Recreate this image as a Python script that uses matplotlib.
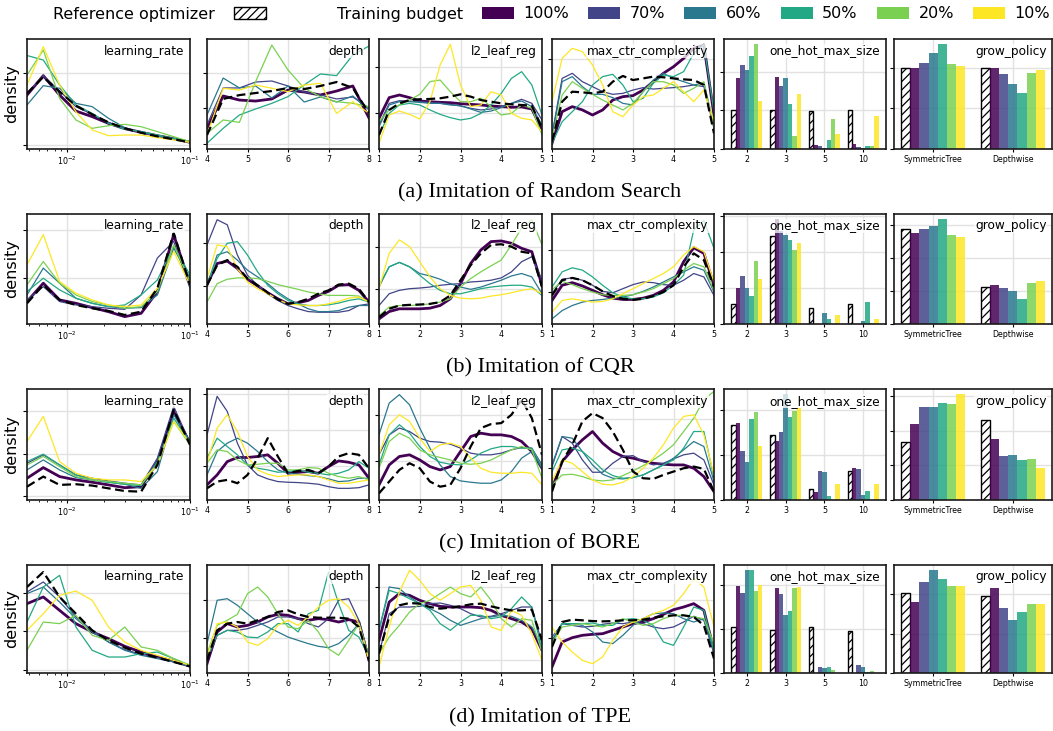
import numpy as np
import matplotlib.pyplot as plt
from matplotlib.patches import Patch
from matplotlib.ticker import MultipleLocator, NullFormatter

budgets = ['100%', '70%', '60%', '50%', '20%', '10%']
colors = [plt.cm.viridis(v) for v in (0.0, 0.2, 0.4, 0.6, 0.8, 1.0)]
captions = ['(a) Imitation of Random Search', '(b) Imitation of CQR',
            '(c) Imitation of BORE', '(d) Imitation of TPE']
kde_params = ['learning_rate', 'depth', 'l2_leaf_reg', 'max_ctr_complexity']
one_hot_cats = ['2', '3', '5', '10']
grow_cats = ['SymmetricTree', 'Depthwise']

# KDE curves (density, arbitrary units); rows: reference, 100%, 70%, 60%, 50%, 20%, 10%
rs_learning_rate = [
    [50.6, 65.5, 52.1, 39.4, 31.5, 24.2, 18.8, 14.8, 11.5, 8.8, 6.1],
    [49, 66.7, 49, 34.5, 29.4, 23.3, 18.5, 15.2, 12.1, 9.4, 6.1],
    [50.6, 66.7, 52.7, 38.5, 31.5, 24.2, 18.8, 15.2, 11.8, 8.8, 6.1],
    [40, 57.6, 55.2, 41.5, 38.5, 27.9, 19.4, 15.2, 11.8, 9.1, 6.4],
    [85, 80.9, 58.2, 40, 32.4, 23.3, 17.9, 15.8, 12.7, 9.7, 6.7],
    [67.3, 90, 46, 26.4, 18.8, 21.2, 22.4, 20.3, 15.8, 11.2, 6.7],
    [58.2, 93, 58.2, 33.9, 17.3, 12.1, 12.7, 12.7, 10.3, 8.2, 6.1],
]
rs_depth = [
    [12.7, 45.5, 49, 50.9, 52.7, 55.5, 54.5, 57.3, 60.9, 55.5, 32.7],
    [19.1, 48.2, 44.5, 43.6, 45.5, 53.6, 51.8, 49.1, 52.7, 57.3, 28.2],
    [21.8, 55.5, 55.5, 60.9, 61.8, 57.3, 51.8, 49.1, 45.5, 47.3, 37.3],
    [30.9, 64.5, 55.5, 57.3, 46.4, 57.3, 42.7, 47.3, 42.7, 48.2, 35.5],
    [5.2, 18.8, 30.9, 36.4, 41.5, 47.6, 58.2, 68.2, 66.7, 85.5, 93.6],
    [14.2, 26.4, 24.2, 61.2, 94.5, 71.8, 55.2, 47.6, 43, 41.5, 38.5],
    [12.7, 55.2, 53.6, 58.2, 55.2, 52.1, 58.2, 59.7, 32.4, 43, 32.4],
]
rs_l2_leaf_reg = [
    [12.7, 35.5, 41.5, 44.5, 45.2, 45.5, 46.1, 47.6, 49.7, 47.6, 44.5, 43, 41.5, 40.6, 40, 39.4, 18.8],
    [27.9, 46.7, 49.1, 46.7, 43.6, 43, 42.4, 42.1, 41.2, 40.6, 40, 39.1, 38.5, 37.9, 38.2, 36.4, 17.3],
    [21.8, 41.5, 43.9, 43.6, 43, 42.4, 41.5, 40.6, 39.1, 37, 35.5, 36.4, 38.5, 41.5, 45.2, 41.5, 26.4],
    [20.3, 40, 43, 43, 42.4, 41.5, 41.5, 40, 39.4, 36.4, 33.3, 34.5, 37.6, 41.5, 43.6, 38.5, 21.8],
    [12.7, 32.4, 40, 41.5, 40, 35.5, 31.5, 28.5, 26.4, 27.9, 32.4, 40, 50.6, 64.2, 70.3, 58.2, 30.9],
    [24.8, 35.5, 40, 44.5, 49.7, 61.2, 62.7, 52.1, 43, 43, 46.1, 38.5, 30.9, 32.4, 40, 37, 12.7],
    [5.2, 30.9, 34.5, 31.5, 27.3, 43, 76.4, 95.2, 58.2, 38.5, 40, 52.1, 49.1, 32.4, 27.9, 26.4, 15.8],
]
rs_max_ctr = [
    [6.7, 43, 52.1, 51.5, 50.6, 52.1, 61.2, 66.4, 62.7, 64.2, 65.8, 65.2, 64.2, 63.3, 62.7, 58.2, 14.2],
    [5.2, 33.9, 38.5, 35.5, 30.9, 35.5, 44.5, 47.6, 48.5, 53.6, 61.2, 68.8, 74.8, 82.4, 91.5, 94.5, 30.9],
    [12.7, 64.2, 68.8, 61.2, 56.7, 52.1, 49.7, 50.6, 53.6, 55.8, 54.5, 55.2, 55.8, 56.7, 58.2, 56.7, 18.8],
    [11.2, 61.2, 65.8, 56.7, 49.7, 49.7, 46.7, 41.5, 40, 52.1, 62.7, 68.8, 64.2, 61.2, 58.2, 60, 21.8],
    [5.2, 24.8, 33.9, 43, 58.2, 65.8, 67.9, 58.2, 43, 46.1, 59.7, 67.3, 65.8, 70.3, 87, 94.5, 33.9],
    [9.7, 49.1, 61.2, 55.2, 49.7, 44.5, 40, 35.5, 41.5, 52.1, 61.2, 61.2, 58.2, 50.6, 55.2, 61.2, 18.8],
    [43, 82.4, 91.5, 88.5, 76.4, 58.2, 33.9, 29.4, 40, 47.6, 49.1, 55.2, 61.2, 52.1, 43, 53.6, 24.8],
]

cqr_learning_rate = [
    [18.8, 35.6, 21.9, 17.3, 14.3, 11.9, 8.2, 11.2, 32.5, 82.7, 35.6],
    [20.4, 37.1, 21.9, 18.8, 14.9, 11.2, 6.7, 9.7, 29.5, 81.2, 35.6],
    [21.9, 34, 20.4, 17.3, 15.8, 14.3, 13.3, 26.4, 60, 75.1, 32.5],
    [26.4, 50.8, 37.1, 23.4, 18.8, 15.8, 14.3, 14.9, 26.4, 69, 41.6],
    [29.5, 41.6, 31, 23.4, 18.8, 15.8, 17.3, 26.4, 40.1, 70.5, 44.7],
    [35.6, 56.8, 37.1, 26.4, 20.4, 17.3, 14.3, 15.8, 29.5, 72, 38.6],
    [53.8, 81.2, 38.6, 28, 21.9, 17.3, 15.8, 17.3, 32.5, 66, 35.6],
]
cqr_depth = [
    [35.2, 53.5, 58.1, 52, 41.3, 35.2, 28.4, 22.3, 18.3, 19.9, 22.9, 27.5, 30.6, 35.8, 36.7, 32.1, 19.9],
    [35.8, 55, 57.2, 50.5, 40.7, 34.6, 28.4, 22.9, 18.3, 19.3, 21.4, 26, 29.7, 35.2, 35.8, 30.6, 19.9],
    [71.9, 94.8, 90.2, 62.7, 44.3, 35.2, 27.5, 21.4, 16.8, 13.8, 11.3, 10.7, 10.7, 10.7, 12.2, 16.8, 18.3],
    [35.2, 62.7, 65.7, 58.1, 48.9, 42.8, 36.7, 29, 22.9, 18.3, 13.8, 11.3, 11.3, 12.2, 15.3, 16.8, 16.8],
    [35.2, 59.6, 73.4, 74.9, 62.7, 47.4, 35.2, 27.5, 21.4, 18.3, 16.8, 16.8, 17.4, 19, 21.4, 22.9, 19.9],
    [19.9, 36.7, 40.7, 41.9, 41.9, 41.3, 38.8, 35.8, 33.6, 31.5, 29.1, 27.5, 26, 26, 26, 25.4, 19.9],
    [41.3, 71.9, 70.3, 50.5, 38.2, 32.1, 27.5, 22.3, 18.3, 17.4, 16.8, 16.8, 18.3, 20.5, 23.5, 24.5, 19.9],
]
cqr_l2_leaf_reg = [
    [6.1, 13.8, 16.8, 17.4, 17.7, 18.3, 19.9, 26, 39.8, 53.5, 64.2, 71.9, 72.5, 70.3, 65.7, 64.2, 33.6],
    [4.6, 11.3, 13.8, 13.8, 13.8, 14.4, 16.8, 22.9, 36.7, 55, 67.3, 74.9, 75.5, 73.4, 68.8, 65.7, 35.2],
    [16.8, 27.5, 30.6, 32.1, 32.7, 33.6, 35.2, 36.1, 36.7, 38.2, 38.8, 39.8, 41.9, 47.4, 56.6, 61.2, 39.8],
    [33.6, 52, 56, 52, 45.9, 43.7, 40.7, 36.7, 33.6, 31.5, 33.6, 36.7, 39.8, 43.7, 45.9, 42.8, 27.5],
    [35.2, 52, 56, 52, 44.3, 36.7, 30.6, 27.5, 27.5, 29.7, 32.1, 33.6, 34.6, 35.2, 35.2, 33.6, 26],
    [7.6, 15.3, 16.8, 16.8, 17.4, 18.3, 19.9, 22.9, 33.6, 41.3, 47.4, 52.9, 58.1, 71.9, 87.2, 94.8, 71.9],
    [32.1, 64.2, 76.5, 70.3, 56.6, 42.8, 32.1, 26, 23.5, 22.9, 23.5, 25.4, 26.6, 28.4, 30.6, 32.1, 27.5],
]
cqr_max_ctr = [
    [26, 39.8, 41.9, 39.8, 35.2, 29.7, 25.4, 22.9, 22, 22.9, 25.4, 29.1, 35.2, 52, 64.2, 58.1, 33.6],
    [21.4, 35.2, 37.6, 34.6, 30.6, 26.6, 23.5, 22.3, 22.3, 23.5, 26, 30.6, 38.2, 56.6, 69.4, 64.2, 35.2],
    [27.5, 40.7, 41.9, 39.8, 35.2, 29.7, 28.4, 32.1, 35.8, 38.2, 37.6, 35.8, 35.2, 39.8, 45.9, 42.8, 26],
    [4.6, 12.2, 16.8, 19.9, 21.4, 22.3, 23.5, 24.5, 26.6, 29.7, 33.6, 38.2, 42.8, 47.4, 52, 48.9, 29.1],
    [33.6, 47.4, 51.1, 49, 42.8, 35.2, 28.4, 24.5, 22.9, 22.9, 24.5, 28.4, 35.2, 44.3, 85.6, 93.9, 68.8],
    [31.2, 38.8, 35.8, 32.1, 29.1, 26.6, 26, 26, 26.6, 29.1, 32.1, 36.7, 41.3, 48.9, 55, 52, 30.6],
    [10.7, 21.4, 22.9, 21.4, 19.9, 20.5, 22.9, 27.5, 32.1, 36.7, 41.3, 45.9, 52, 62.7, 70.3, 65.7, 38.2],
]

bore_learning_rate = [
    [12, 21.1, 13.6, 14.2, 13, 10.5, 8.1, 7.5, 31.6, 81.3, 49.7],
    [19.6, 29.2, 21.1, 18.1, 16, 13.6, 11.1, 12, 34.6, 79.8, 51.2],
    [33.1, 40.7, 31.6, 22.6, 19.6, 17.2, 15.1, 13.6, 37.7, 84.3, 51.2],
    [27.1, 36.1, 27.1, 20.2, 18.1, 16, 14.2, 10.5, 25.6, 76.8, 52.7],
    [34.6, 41.3, 31.6, 22.6, 18.1, 16, 14.2, 13, 34.6, 73.8, 51.2],
    [31.6, 39.2, 30.1, 21.1, 18.1, 16.6, 15.1, 13.6, 31.6, 70.8, 49.7],
    [52.7, 75.3, 34.6, 24.1, 19.6, 18.1, 18.1, 16.6, 31.6, 70.8, 51.2],
]
bore_depth = [
    [10.5, 16.6, 18.1, 15.1, 22.6, 37.7, 55.7, 39.2, 24.1, 26.2, 27.1, 24.1, 30.1, 39.2, 42.2, 40.7, 28.6],
    [13.6, 22.6, 34.6, 38.3, 38.3, 39.2, 40.7, 33.1, 24.1, 25, 25.6, 24.1, 30.1, 35.2, 34, 31.6, 19.6],
    [58.7, 93.4, 79.8, 51.2, 31.6, 22.6, 19, 16.6, 16, 15.7, 15.1, 14.2, 12, 10.5, 10.5, 11.1, 13.6],
    [22.6, 43.7, 51.2, 55.7, 51.2, 43.7, 34.6, 27.1, 24.1, 23.2, 22, 21.1, 19, 16.6, 17.2, 19.6, 19.6],
    [37.7, 55.7, 48.2, 40.7, 31.6, 28.6, 27.1, 25, 25.6, 27.1, 25, 24.1, 22.6, 24.1, 27.1, 34.6, 28.6],
    [33.1, 45.2, 43.7, 36.1, 31.6, 32.2, 33.1, 33.1, 27.1, 27.1, 29.2, 28.6, 24.1, 21.1, 19.6, 21.1, 18.1],
    [33.1, 64.8, 76.8, 61.7, 39.2, 27.1, 23.2, 21.1, 22, 22.6, 22.6, 21.1, 18.1, 15.1, 15.1, 16.6, 18.1],
]
bore_l2_leaf_reg = [
    [6, 16.6, 27.1, 33.1, 28.6, 16.6, 12, 13.6, 28.6, 48.2, 64.8, 68.4, 69.3, 76.8, 90.4, 73.8, 40.7],
    [13.6, 31.6, 39.2, 40.7, 36.1, 30.1, 27.1, 30.1, 43.7, 57.2, 60.2, 58.7, 58.7, 57.2, 52.7, 43.7, 28.6],
    [40.7, 58.7, 64.8, 61.7, 55.7, 52.7, 52.1, 50.3, 46.7, 42.2, 40.7, 40.7, 42.2, 45.2, 47.3, 46.7, 31.6],
    [58.7, 87.3, 94.9, 85.8, 64.8, 46.7, 31.6, 21.1, 17.2, 16, 15.1, 15.1, 18.1, 25.6, 37.7, 43.7, 28.6],
    [31.6, 58.7, 67.8, 60.2, 48.2, 39.2, 34, 32.2, 31.6, 36.1, 42.2, 46.1, 48.2, 48.2, 46.7, 46.7, 30.1],
    [28.6, 52.7, 60.2, 55.7, 45.2, 40.7, 38.3, 36.1, 33.1, 32.2, 33.1, 36.1, 40.7, 45.2, 48.2, 45.2, 19.6],
    [40.7, 67.8, 76.8, 70.8, 55.7, 43.7, 49.7, 51.2, 48.2, 37.7, 28.6, 25, 24.1, 24.1, 25, 24.1, 13.6],
]
bore_max_ctr = [
    [7.5, 34.6, 49.7, 70.8, 78.3, 73.8, 61.7, 45.2, 25.6, 19.6, 19, 22.6, 25.6, 28.6, 30.1, 28, 7.5],
    [10.5, 34.6, 45.2, 54.2, 61.7, 51.2, 43.7, 39.2, 37.7, 35.2, 33.1, 32.2, 31.6, 31.6, 28.6, 21.1, 7.5],
    [30.1, 57.2, 51.2, 36.1, 25, 25, 33.1, 39.2, 40, 34.6, 31.6, 33.1, 37, 40.7, 42.2, 36.1, 13.6],
    [31.6, 57.2, 55.7, 43.7, 31.6, 23.2, 19.6, 19, 20.2, 22.6, 27.1, 31.6, 37.7, 45.2, 52.7, 48.2, 16.6],
    [25.6, 45.2, 46.7, 43.7, 36.1, 27.1, 22, 19.6, 20.2, 22.6, 27.1, 31.6, 36.1, 46.7, 61.7, 61.7, 19.6],
    [13.6, 22.6, 23.2, 21.1, 18.1, 17.2, 18.1, 22, 26.2, 31, 36.1, 42.2, 49.7, 61.7, 73.8, 90.4, 97.9],
    [16.6, 36.1, 33.1, 25.6, 18.1, 14.2, 13.6, 16, 21.1, 28.6, 37.7, 49.7, 64.8, 75.3, 76.8, 58.7, 22.6],
]

tpe_learning_rate = [
    [79.6, 93.5, 70.4, 54.9, 39.5, 30.2, 23.5, 17.9, 14.2, 10.2, 6.2],
    [64.2, 70.4, 58, 45.7, 38, 31.8, 24.7, 19.4, 14.8, 11.1, 6.2],
    [75, 84.3, 70.4, 51.9, 39.5, 28.7, 21.6, 17.3, 14.2, 10.2, 6.2],
    [73.5, 79.6, 65.7, 50.3, 38, 28.7, 21, 16.4, 13.3, 10.2, 6.2],
    [47.2, 79.6, 90.4, 42.6, 21, 14.8, 14.8, 17.9, 19.4, 13.3, 7.1],
    [21, 47.2, 45.7, 53.4, 34.9, 30.2, 42.6, 24.1, 21, 13.3, 7.1],
    [39.5, 54.9, 71.9, 75.9, 67.3, 42.6, 28.7, 21, 16.4, 11.7, 7.1],
]
tpe_depth = [
    [11.7, 39.5, 45.7, 47.2, 45.7, 48.8, 51.9, 56.5, 58, 54.3, 51.9, 51.2, 51.2, 51.2, 50.3, 42.6, 11.7],
    [8.6, 38, 45.7, 42.6, 44.1, 47.2, 51.9, 54.3, 53.4, 50.3, 48.8, 50.3, 49.4, 47.2, 49.4, 47.2, 11.7],
    [11.7, 34.9, 39.5, 39.5, 41, 44.1, 47.2, 51.9, 51.9, 50.3, 45.7, 42.6, 50.3, 67.3, 68.8, 48.8, 14.8],
    [27.2, 67.3, 68.8, 62.7, 54.9, 47.2, 42.6, 38, 33.3, 30.2, 27.2, 24.7, 23.5, 27.2, 34.9, 45.7, 14.8],
    [14.8, 34.9, 39.5, 37.9, 33.3, 32.7, 38, 45.7, 45.7, 38, 54.9, 58, 93.5, 64.2, 39.5, 33.3, 14.8],
    [17.9, 44.1, 48.8, 54.3, 73.5, 79.6, 70.4, 54.9, 42.6, 41, 48.8, 38, 22.5, 16.4, 30.2, 45.7, 14.8],
    [13.3, 45.7, 47.2, 42.6, 28.7, 25.6, 31.8, 44.1, 48.8, 44.1, 51.9, 61.1, 67.3, 68.8, 61.1, 45.7, 11.7],
]
tpe_l2_leaf_reg = [
    [17.9, 51.9, 62.7, 64.8, 64.2, 61.1, 59.6, 60.5, 61.7, 63.6, 64.2, 61.7, 59.6, 58, 58, 58.6, 30.2],
    [30.2, 65.7, 73.5, 71.9, 67.3, 64.2, 61.7, 61.1, 61.1, 61.1, 60.5, 58, 53.4, 50.3, 47.2, 41, 21],
    [17.9, 54.9, 61.1, 61.1, 61.7, 64.2, 64.8, 62.7, 59.6, 54.9, 51.9, 52.5, 54.9, 58, 61.1, 61.1, 27.2],
    [39.5, 79.6, 78.1, 70.4, 64.2, 59.6, 54.9, 48.8, 44.1, 47.2, 50.3, 51.9, 53.4, 52.5, 48.8, 42.6, 24.1],
    [39.5, 76.5, 73.5, 68.8, 64.2, 58, 45.7, 39.5, 47.2, 53.4, 53.4, 50.3, 51.9, 59.6, 70.4, 61.1, 21],
    [17.9, 33.3, 44.1, 56.5, 64.2, 67.3, 73.5, 79.6, 73.5, 70.4, 79.6, 67.3, 50.3, 42.6, 50.3, 48.8, 19.4],
    [5.6, 42.6, 75, 95.1, 85.8, 73.5, 67.3, 73.5, 79.6, 81.2, 67.3, 42.6, 39.5, 58, 53.4, 36.4, 11.7],
]
tpe_max_ctr = [
    [24.1, 47.2, 49.4, 48.8, 48.1, 47.8, 48.1, 48.8, 48.8, 49.4, 51.2, 52.5, 53.4, 53.4, 51.9, 44.1, 13.3],
    [5.6, 28.7, 32.7, 34.9, 35.8, 36.4, 39.5, 42.6, 45.7, 47.2, 50.3, 54.3, 58.6, 61.1, 64.2, 58, 21],
    [30.2, 45.7, 44.1, 42.6, 43.2, 45.1, 46.3, 45.7, 47.2, 45.7, 42.6, 41, 42.6, 47.2, 52.5, 48.8, 17.9],
    [33.3, 45.7, 45.7, 44.1, 38, 28.7, 27.2, 34.9, 44.1, 50.3, 54.9, 55.6, 54.9, 50.3, 47.2, 50.3, 19.4],
    [27.2, 45.7, 45.7, 45.7, 46.3, 44.1, 44.1, 49.4, 50.3, 48.8, 44.1, 28.7, 25.6, 42.6, 61.1, 58, 21],
    [27.2, 42.6, 44.1, 45.7, 44.1, 42.6, 45.7, 50.3, 47.2, 44.1, 45.7, 50.3, 53.4, 53.4, 51.9, 50.3, 27.2],
    [42.6, 28.7, 19.4, 11.7, 8.6, 14.8, 30.2, 42.6, 47.2, 50.3, 54.9, 58, 62.7, 73.5, 87.3, 79.6, 42.6],
]

# category frequencies; rows: reference, 100%, 70%, 60%, 50%, 20%, 10%
rs_one_hot = [[.25, .25, .243, .25], [.458, .465, .024, .033], [.541, .407, .017, .013],
              [.509, .459, .004, .004], [.604, .293, .059, .02], [.678, .087, .193, .02],
              [.313, .359, .096, .211]]
rs_grow = [[.5, .5], [.499, .497], [.532, .46], [.592, .4], [.646, .348], [.522, .47], [.509, .487]]
cqr_one_hot = [[.14, .61, .114, .138], [.25, .73, 0, 0], [.333, .65, 0, 0],
               [.25, .617, .079, .024], [.198, .588, .036, .15], [.44, .517, 0, .007],
               [.317, .562, .06, .036]]
cqr_grow = [[.72, .28], [.689, .296], [.72, .27], [.74, .249], [.794, .193], [.674, .314], [.663, .326]]
bore_one_hot = [[.419, .362, .064, .162], [.428, .328, .047, .181], [.275, .377, .162, .17],
                [.211, .589, .158, .03], [.453, .464, .023, .049], [.491, .494, 0, 0],
                [.3, .513, .089, .087]]
bore_grow = [[.422, .578], [.551, .441], [.672, .319], [.672, .324], [.701, .289], [.696, .294], [.765, .23]]
tpe_one_hot = [[.258, .246, .258, .237], [.492, .483, 0, 0], [.451, .447, .032, .047],
               [.583, .331, .027, .034], [.583, .35, .036, .008], [.464, .483, .015, .013],
               [.496, .485, 0, 0]]
tpe_grow = [[.511, .489], [.449, .54], [.578, .411], [.654, .338], [.599, .388], [.553, .439], [.553, .439]]

# y tick positions of the unlabeled density axes
kde_yticks = [
    [[3.6, 69], [4.8, 37, 69.4], [32.4, 74.2], [39.4, 81.8]],
    [[41.6, 85.7], [34.6, 73.4], [32.1, 70.3], [29.1, 67.3]],
    [[3.6, 41.6, 79.8], [31, 63.3, 95.5], [35.2, 76.2], [29.2, 72.9]],
    [[3, 38.6, 74], [32.7, 67.3], [11.7, 45.7, 79.6], [32.7, 67.9]],
]

kde_rows = [
    [rs_learning_rate, rs_depth, rs_l2_leaf_reg, rs_max_ctr],
    [cqr_learning_rate, cqr_depth, cqr_l2_leaf_reg, cqr_max_ctr],
    [bore_learning_rate, bore_depth, bore_l2_leaf_reg, bore_max_ctr],
    [tpe_learning_rate, tpe_depth, tpe_l2_leaf_reg, tpe_max_ctr],
]
bar_rows = [[rs_one_hot, rs_grow], [cqr_one_hot, cqr_grow],
            [bore_one_hot, bore_grow], [tpe_one_hot, tpe_grow]]
x_ranges = [(10 ** -2.32, 0.1), (4, 8), (1, 5), (1, 5)]

plt.rcParams['hatch.linewidth'] = 0.9
W, H = 1053, 731
fig = plt.figure(figsize=(W / 100, H / 100), dpi=100)
cols_px = [(27, 190), (207, 369), (379, 542), (552, 714), (724, 886), (894, 1052)]
rows_px = [(39, 149), (214, 324), (389, 500), (565, 673)]
cap_y = [193, 368, 544, 718]


def add_ax(r, c):
    left, right = cols_px[c]
    top, bottom = rows_px[r]
    return fig.add_axes([left / W, 1 - bottom / H, (right - left) / W, (bottom - top) / H])


def style(ax, title):
    ax.grid(True, color='#e2e2e2', lw=1.0)
    ax.set_axisbelow(True)
    for s in ax.spines.values():
        s.set_linewidth(1.2)
        s.set_color('#1a1a1a')
    ax.tick_params(axis='y', length=3, width=0.8, labelleft=False)
    ax.tick_params(axis='x', length=2, width=0.8, labelsize=5.7, pad=2)
    ax.tick_params(axis='x', which='minor', length=1.5, width=0.6)
    ax.text(0.965, 0.95, title, transform=ax.transAxes, ha='right', va='top',
            fontsize=8.7, zorder=10,
            bbox=dict(facecolor='white', edgecolor='none', alpha=0.75, pad=0.5))


for r in range(4):
    for c in range(4):
        ax = add_ax(r, c)
        curves = kde_rows[r][c]
        lo, hi = x_ranges[c]
        if c == 0:
            xs = np.logspace(np.log10(lo), np.log10(hi), len(curves[0]))
            ax.set_xscale('log')
            ax.xaxis.set_minor_formatter(NullFormatter())
        else:
            xs = np.linspace(lo, hi, len(curves[0]))
            ax.set_xticks(np.arange(lo, hi + 1))
        ax.plot(xs, curves[0], color='black', ls=(0, (4, 2)), lw=1.6, zorder=3)
        for i, ys in enumerate(curves[1:]):
            ax.plot(xs, ys, color=colors[i], lw=2.0 if i == 0 else 0.9, zorder=2)
        ax.set_xlim(lo, hi)
        ax.set_ylim(0, 100)
        ax.set_yticks(kde_yticks[r][c])
        style(ax, kde_params[c])
        if c == 0:
            ax.set_ylabel('density', fontsize=11.5, labelpad=3)

    for k, (cats, name) in enumerate([(one_hot_cats, 'one_hot_max_size'), (grow_cats, 'grow_policy')]):
        ax = add_ax(r, 4 + k)
        vals = bar_rows[r][k]
        x = np.arange(len(cats))
        w = 0.8 / 7
        ax.bar(x - 3 * w, vals[0], width=w, facecolor='white', edgecolor='black',
               hatch='////', lw=1.0, zorder=2)
        for i in range(6):
            ax.bar(x + (i - 2) * w, vals[i + 1], width=w, color=colors[i], alpha=0.85,
                   lw=0, zorder=2)
        ax.set_xticks(x)
        ax.set_xticklabels(cats)
        ax.yaxis.set_major_locator(MultipleLocator(0.25))
        style(ax, name)

    fig.text(540 / W, 1 - cap_y[r] / H, captions[r], ha='center', va='center',
             family='Liberation Serif', fontsize=16)

handles = [Patch(facecolor='none', edgecolor='none'),
           Patch(facecolor='white', edgecolor='black', hatch='////'),
           Patch(facecolor='none', edgecolor='none')]
labels = ['Reference optimizer', '', 'Training budget']
for i, b in enumerate(budgets):
    handles.append(Patch(facecolor=colors[i], edgecolor='none'))
    labels.append(b)
fig.legend(handles, labels, loc='center', bbox_to_anchor=(531 / W, 1 - 14 / H), ncol=9,
           frameon=False, fontsize=11.5, handlelength=2.0, handletextpad=0.6,
           columnspacing=1.2, borderpad=0, borderaxespad=0)

fig.savefig('out.png', dpi=100)
